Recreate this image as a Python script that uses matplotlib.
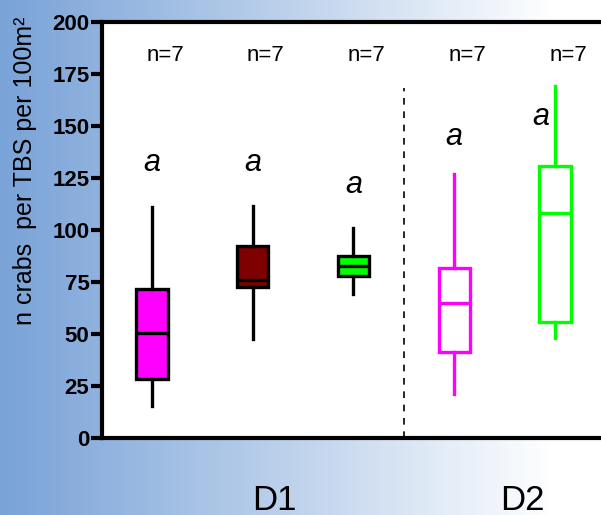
import matplotlib
matplotlib.use("Agg")
import matplotlib.pyplot as plt
import numpy as np

plt.rcParams["font.family"] = ["Liberation Sans", "DejaVu Sans"]

# five-number summaries
positions = [1, 2, 3, 4, 5]
whislo = [15.5, 47.7, 69.0, 21.0, 47.9]
q1 = [28.5, 72.7, 77.9, 41.5, 55.9]
med = [50.3, 76.0, 82.4, 65.0, 108.0]
q3 = [71.6, 92.3, 87.2, 81.6, 130.8]
whishi = [110.9, 111.5, 100.8, 126.9, 169.2]
n_labels = ["n=7"] * 5
letters = ["a", "a", "a", "a", "a"]
letter_y = [132, 132, 121.5, 144.5, 154]
face = ["#FF00FF", "#7F0000", "#00FF00", "white", "white"]
edge = ["black", "black", "black", "#FF00FF", "#00FF00"]
groups = ["D1", "D2"]

W, H = 601, 515
fig = plt.figure(figsize=(W / 100, H / 100), dpi=100)

# background gradient, blue on the left fading to white on the right
bg = fig.add_axes([0, 0, 1, 1], zorder=-10)
t = np.clip(np.linspace(0, 1, 300) / 0.92, 0, 1)
c0 = np.array([122, 163, 216]) / 255
c1 = np.array([255, 255, 255]) / 255
grad = c0[None, :] + (c1 - c0)[None, :] * (t[:, None] ** 1.05)
bg.imshow(grad[None, :, :], aspect="auto", extent=[0, 1, 0, 1])
bg.set_axis_off()

left, right, bottom, top = 102, 601, 438, 21.7
ax = fig.add_axes([left / W, (H - bottom) / H, (right - left) / W, (bottom - top) / H])
ax.set_facecolor("white")

stats = []
for i in range(5):
    stats.append(dict(med=med[i], q1=q1[i], q3=q3[i], whislo=whislo[i], whishi=whishi[i], fliers=[]))

for i in range(5):
    ax.bxp([stats[i]], positions=[positions[i]], widths=0.31, showcaps=False,
           showfliers=False, patch_artist=True,
           boxprops=dict(facecolor=face[i], edgecolor=edge[i], linewidth=2.4),
           medianprops=dict(color=edge[i], linewidth=2.4),
           whiskerprops=dict(color=edge[i], linewidth=2.4))

for i in range(5):
    ax.text(positions[i] + 0.13, 184, n_labels[i], ha="center", va="center", fontsize=16)
    dx = -0.14 if i == 4 else 0.0
    ax.text(positions[i] + dx, letter_y[i], letters[i], ha="center", va="center",
            fontsize=22, style="italic")

ax.plot([3.5, 3.5], [0, 168], ls=(0, (4, 4)), color="black", lw=1.2)

ax.set_xlim(0.504, 5.457)
ax.set_ylim(0, 200)
ax.set_yticks(np.arange(0, 201, 25))
ax.set_xticks([])
for lab in ax.get_yticklabels():
    lab.set_fontweight("bold")
ax.tick_params(axis="y", direction="out", length=8, width=3, labelsize=16, pad=1)
for s in ["left", "bottom", "top"]:
    ax.spines[s].set_linewidth(3)
ax.spines["right"].set_visible(False)

fig.text(25 / W, 1 - 171 / H, "n crabs  per TBS per 100m²", rotation=90,
         ha="center", va="center", fontsize=18)

fig.text(274 / W, 1 - 500 / H, groups[0], ha="center", va="center", fontsize=25)
fig.text(522 / W, 1 - 500 / H, groups[1], ha="center", va="center", fontsize=25)

fig.savefig("out.png", dpi=100)
